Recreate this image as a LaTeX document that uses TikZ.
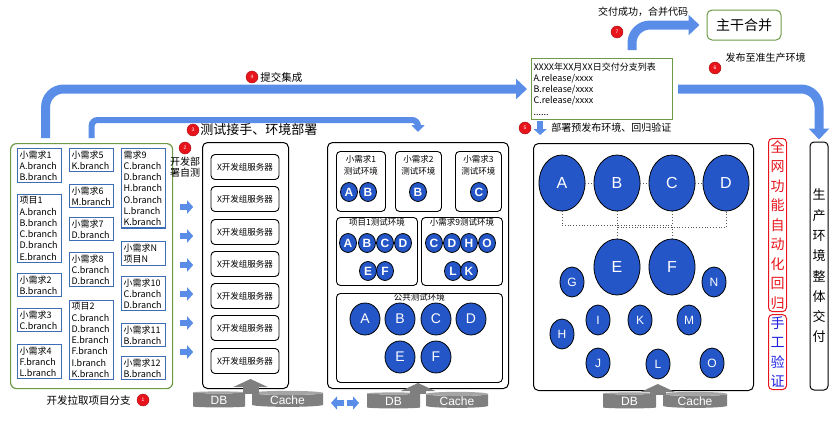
\documentclass[tikz,border=0pt]{standalone}
\usepackage{fontspec}
\setmainfont{Noto Sans CJK SC}
\newfontfamily\latfont{Liberation Sans}
\usepackage{tikz}
\usetikzlibrary{shapes.geometric, arrows.meta, calc, positioning}
\definecolor{brblue}{HTML}{3D6DB5}
\definecolor{devgreen}{HTML}{6C9A45}
\definecolor{ballblue}{HTML}{2456C8}
\definecolor{arrblue}{HTML}{5A8DE8}
\definecolor{numred}{HTML}{E8141B}
\definecolor{dbgray}{HTML}{7F7F7F}
\definecolor{manblue}{HTML}{2020E0}

\begin{document}
\begin{tikzpicture}[x=1pt, y=-1pt]
\tikzset{
    node style br/.style={draw=brblue, line width=1.1pt, rectangle, anchor=north west, align=left, text width=40pt, inner sep=2pt, font=\fontsize{9}{11.3}\selectfont},
    node style box/.style={draw, rounded corners=5pt, line width=1pt, anchor=north west, inner sep=0pt},
    node style srv/.style={draw, rounded corners=4pt, line width=0.9pt, minimum width=68pt, minimum height=25pt, inner sep=1pt, font=\fontsize{8.5}{9}\selectfont},
    node style env/.style={draw, rounded corners=4pt, line width=0.9pt, anchor=north west, inner sep=0pt},
    node style ball/.style={ellipse, fill=ballblue, draw=black, line width=0.8pt, inner sep=0pt, text=white, minimum width=17pt, minimum height=19pt, font=\latfont\bfseries\fontsize{12}{12}\selectfont},
    node style num/.style={circle, fill=numred, draw=numred!70!black, line width=0.4pt, minimum size=12pt, inner sep=0pt, text=white, font=\latfont\fontsize{5}{5}\selectfont},
    node style db/.style={cylinder, shape border rotate=90, aspect=0.12, cylinder uses custom fill, cylinder body fill=dbgray, cylinder end fill=dbgray!70, minimum height=16pt, inner sep=0pt, text=white, font=\latfont\fontsize{12}{12}\selectfont},
    node style vbox/.style={rounded corners=4pt, line width=1pt, align=center, inner sep=2pt, font=\fontsize{14}{19.5}\selectfont},
    node style lbl/.style={inner sep=1pt, font=\fontsize{10}{11}\selectfont},
    arrow style big/.style={draw=arrblue, line width=9pt, rounded corners=18pt, -{Triangle[width=20pt,length=11pt]}},
    arrow style mid/.style={draw=arrblue, line width=6pt, rounded corners=6pt, -{Triangle[width=13pt,length=7pt]}},
    arrow style small/.style={draw=arrblue, line width=6.5pt, -{Triangle[width=13pt,length=6pt]}},
    arrow style up/.style={draw=dbgray, line width=16pt, -{Triangle[width=34pt,length=8pt]}}
}
\useasboundingbox (0,0) rectangle (834,423);

% developer branches
\node[node style box, draw=devgreen, line width=1.2pt, rounded corners=6pt, minimum width=162pt, minimum height=245pt] (dev) at (10,143) {};
\foreach \n/\y/\t in {b1/148/{小需求1\\A.branch\\B.branch}, b2/194/{项目1\\A.branch\\B.branch\\C.branch\\D.branch\\E.branch}, b3/273/{小需求2\\B.branch}, b4/308/{小需求3\\C.branch}, b5/344/{小需求4\\F.branch\\L.branch}}
    \node[node style br] (\n) at (17,\y) {\t};
\foreach \n/\y/\t in {b6/148/{小需求5\\K.branch}, b7/184/{小需求6\\M.branch}, b8/217/{小需求7\\D.branch}, b9/252/{小需求8\\C.branch\\D.branch}, b10/300/{项目2\\C.branch\\D.branch\\E.branch\\F.branch\\I.branch\\K.branch}}
    \node[node style br] (\n) at (69,\y) {\t};
\foreach \n/\y/\t in {b11/148/{需求9\\C.branch\\D.branch\\H.branch\\O.branch\\L.branch\\K.branch}, b12/241/{小需求N\\项目N}, b13/276/{小需求10\\C.branch\\D.branch}, b14/323/{小需求11\\B.branch}, b15/356/{小需求12\\B.branch}}
    \node[node style br] (\n) at (121,\y) {\t};
\node[node style num] (n1) at (143,400) {1};
\node[node style lbl, left=5pt of n1, font=\fontsize{10.5}{12}\selectfont] (l1) {开发拉取项目分支};

% dev servers
\node[node style box, minimum width=86pt, minimum height=246pt] (srv) at (202,142) {};
\foreach \i/\y in {1/167,2/199,3/232,4/264,5/296,6/328,7/361}
    \node[node style srv] (s\i) at (245,\y) {X开发组服务器};
\foreach \y in {207,236,265,294,323,352}
    \draw[arrow style small] (dev.east |- 0,\y) ++(7,0) -- ++(13,0);
\node[node style num] (n2) at (185,148) {2};
\node[node style lbl, below=2pt of n2, align=center] (l2) {开发部\\署自测};

% test environments
\node[node style box, minimum width=181pt, minimum height=246pt] (tenv) at (327,142) {};
\node[node style env, minimum width=49pt, minimum height=60pt, label={[anchor=north, yshift=-4pt, align=center, inner sep=0pt, font=\fontsize{8.5}{12}\selectfont]north:{小需求1\\测试环境}}] (e1) at (336,151) {};
\node[node style env, minimum width=46pt, minimum height=60pt, label={[anchor=north, yshift=-4pt, align=center, inner sep=0pt, font=\fontsize{8.5}{12}\selectfont]north:{小需求2\\测试环境}}] (e2) at (395,151) {};
\node[node style env, minimum width=46pt, minimum height=60pt, label={[anchor=north, yshift=-4pt, align=center, inner sep=0pt, font=\fontsize{8.5}{12}\selectfont]north:{小需求3\\测试环境}}] (e3) at (455,151) {};
\node[node style env, minimum width=81pt, minimum height=68pt, label={[anchor=north, yshift=-1pt, inner sep=0pt, font=\fontsize{8.5}{10}\selectfont]north:项目1测试环境}] (e4) at (336,217) {};
\node[node style env, minimum width=81pt, minimum height=68pt, label={[anchor=north, yshift=-1pt, inner sep=0pt, font=\fontsize{8.5}{10}\selectfont]north:小需求9测试环境}] (e5) at (421,217) {};
\node[node style env, minimum width=166pt, minimum height=89pt, label={[anchor=north, yshift=0pt, inner sep=0pt, font=\fontsize{8.5}{10}\selectfont]north:公共测试环境}] (e6) at (336,293) {};
\node[node style ball] (e1A) at (349,192) {A};
\node[node style ball] (e1B) at (368,192) {B};
\node[node style ball] (e2B) at (418,192) {B};
\node[node style ball] (e3C) at (479,192) {C};
\foreach \n/\x in {A/348,B/367,C/385,D/403}
    \node[node style ball] (e4\n) at (\x,243) {\n};
\foreach \n/\x in {E/368,F/385}
    \node[node style ball] (e4\n) at (\x,271) {\n};
\foreach \n/\x in {C/434,D/452,H/469,O/487}
    \node[node style ball] (e5\n) at (\x,243) {\n};
\foreach \n/\x in {L/453,K/469}
    \node[node style ball] (e5\n) at (\x,271) {\n};
\foreach \n/\x/\y in {A/365/319,B/400/319,C/436/319,D/471/319,E/400/357,F/436/357}
    \node[node style ball, minimum width=30pt, minimum height=32pt, font=\latfont\fontsize{14}{14}\selectfont] (e6\n) at (\x,\y) {\n};

% pre-release
\node[node style box, minimum width=220pt, minimum height=247pt] (pre) at (533,143) {};
\foreach \n/\x/\y in {A/562/183,B/617/183,C/672/183,D/726/183,E/617/267,F/672/267}
    \node[node style ball, minimum width=46pt, minimum height=56pt, font=\latfont\fontsize{16}{16}\selectfont] (r\n) at (\x,\y) {\n};
\foreach \n/\x/\y in {G/572/282,N/714/282,H/562/334,I/598/320,K/640/320,M/689/320,J/598/363,L/658/364,O/712/363}
    \node[node style ball, minimum width=24pt, minimum height=30pt, font=\latfont\fontsize{12}{12}\selectfont] (r\n) at (\x,\y) {\n};
\draw[dotted, gray!70!black, thick] (rA) -- (rB) -- (rC) -- (rD);
\draw[dotted, gray!70!black, thick] (rA.south) -- ++(0,14) -| (rC.south);
\draw[dotted, gray!70!black, thick] (rB.south) -- ++(0,16) -| (rD.south);
\draw[dotted, gray!70!black, thick] (rE.north) -- ++(0,-13);
\draw[dotted, gray!70!black, thick] (rF.north) -- ++(0,-13);

% storage
\node[node style db, minimum width=52pt] (db1) at (219,400) {DB};
\node[node style db, minimum width=71pt] (ca1) at (287.5,400) {Cache};
\node[node style db, minimum width=53pt] (db2) at (393.5,401) {DB};
\node[node style db, minimum width=62pt] (ca2) at (457,401) {Cache};
\node[node style db, minimum width=53pt] (db3) at (629.5,401) {DB};
\node[node style db, minimum width=64pt] (ca3) at (695,401) {Cache};
\draw[arrow style up] (srv.south) ++(5,5) -- ++(0,-15);
\draw[arrow style up] (tenv.south) ++(0,5) -- ++(0,-11);
\draw[arrow style up] (pre.south -| ca3.west) ++(-5,4) -- ++(0,-11);
\draw[arrow style small, line width=6pt] (srv.east |- 0,403) ++(55,0) -- ++(-13,0);
\draw[arrow style small, line width=6pt] (srv.east |- 0,403) ++(58,0) -- ++(12,0);

% release list and delivery
\node[draw=devgreen, line width=1pt, anchor=north west, minimum height=61pt, text width=137pt, inner xsep=2pt, align=left, font=\fontsize{9}{11.2}\selectfont] (rel) at (531,58) {XXXX年XX月XX日交付分支列表\\A.release/xxxx\\B.release/xxxx\\C.release/xxxx\\......};
\node[draw=devgreen, rounded corners=5pt, line width=1pt, minimum width=74pt, minimum height=30pt, font=\fontsize{14}{14}\selectfont] (trunk) at (744,25) {主干合并};
\node[node style vbox, draw=numred, text=numred, anchor=north] (auto) at (777.5,138) {全\\网\\功\\能\\自\\动\\化\\回\\归};
\node[node style vbox, draw=numred, text=manblue, below=2pt of auto] (man) {手\\工\\验\\证};
\node[draw, rounded corners=4pt, line width=1pt, minimum width=18pt, minimum height=248pt, align=center, inner sep=1pt, font=\fontsize{13}{20.3}\selectfont] (prod) at (819,266) {生\\产\\环\\境\\整\\体\\交\\付};

% flow arrows
\draw[arrow style big, shorten >=4pt] ([xshift=-46pt, yshift=5pt]dev.north) |- (rel.west);
\draw[arrow style mid] ([yshift=5pt]dev.north) -- ++(0,-18) -| ([yshift=10pt]tenv.north);
\draw[arrow style big, shorten >=7pt] ([xshift=30pt, yshift=8pt]rel.north) |- (trunk.west);
\draw[arrow style big, shorten <=5pt, shorten >=2pt] (rel.east) -| (prod.north);

% step labels
\node[node style num] (n3) at (193,130) {3};
\node[node style lbl, right=0pt of n3, font=\fontsize{13}{14}\selectfont] (l3) {测试接手、环境部署};
\node[node style num] (n4) at (252,77) {4};
\node[node style lbl, right=1pt of n4, font=\fontsize{10.5}{12}\selectfont] (l4) {提交集成};
\node[node style num] (n5) at (525,128) {5};
\draw[arrow style small, line width=6pt] (n5.east) ++(9,-7) -- ++(0,14);
\node[node style lbl, anchor=west] (l5) at ([xshift=19pt]n5.east) {部署预发布环境、回归验证};
\node[node style num] (n6) at (715,68) {6};
\node[node style lbl, anchor=south west] (l6) at ([xshift=5pt]n6.north east) {发布至准生产环境};
\node[node style num] (n7) at (617,32) {7};
\node[node style lbl] (l7) at (643,12) {交付成功，合并代码};
\end{tikzpicture}
\end{document}
